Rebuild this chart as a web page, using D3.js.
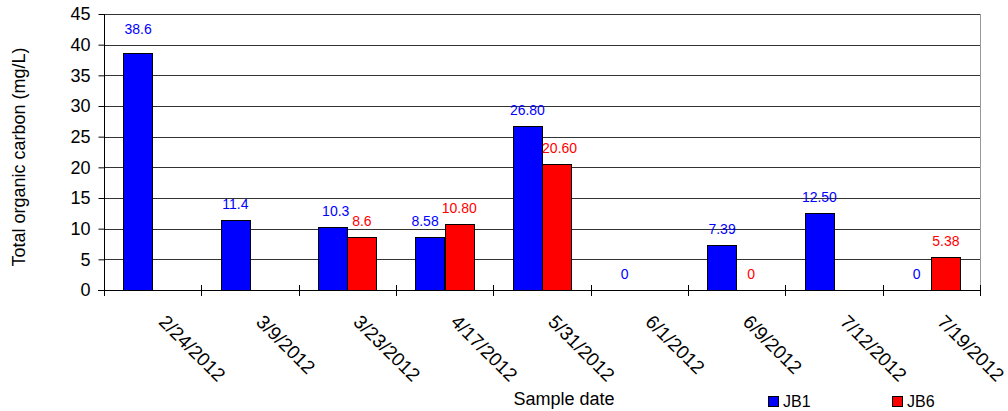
<!DOCTYPE html>
<html>
<head>
<meta charset="utf-8">
<script src="https://cdn.jsdelivr.net/npm/d3@7"></script>
<style>
  html, body { margin: 0; padding: 0; background: #fff; }
  svg { display: block; font-family: "Liberation Sans", Arial, sans-serif; }
</style>
</head>
<body>
<svg id="chart" width="1008" height="411"></svg>
<script>
// Sample dates (category axis)
const dates = ["2/24/2012", "3/9/2012", "3/23/2012", "4/17/2012", "5/31/2012",
               "6/1/2012", "6/9/2012", "7/12/2012", "7/19/2012"];
// Total organic carbon (mg/L); null = not sampled
const jb1Values = [38.6, 11.4, 10.3, 8.58, 26.8, 0, 7.39, 12.5, 0];
const jb6Values = [null, null, 8.6, 10.8, 20.6, null, 0, null, 5.38];
// Data label text as printed above each bar
const jb1Labels = ["38.6", "11.4", "10.3", "8.58", "26.80", "0", "7.39", "12.50", "0"];
const jb6Labels = [null, null, "8.6", "10.80", "20.60", null, "0", null, "5.38"];
const seriesNames = ["JB1", "JB6"];
const seriesColors = ["#0000ff", "#ff0000"];
const yTicks = [0, 5, 10, 15, 20, 25, 30, 35, 40, 45];

// Hand-placed data labels (pixel nudges so neighbouring labels don't collide)
const labelNudge = {
  "JB1-2/24/2012": [0, -8],
  "JB1-3/23/2012": [3, 0],
  "JB1-4/17/2012": [-5, 0],
  "JB6-5/31/2012": [3, 0]
};

const svg = d3.select("#chart");
const plot = { left: 104, right: 980, top: 14, bottom: 290 };

const x = d3.scaleBand().domain(dates).range([plot.left, plot.right]).padding(0);
const xs = d3.scaleBand().domain(seriesNames).range([0, x.bandwidth()])
  .paddingInner(0).paddingOuter(0.667);
const y = d3.scaleLinear().domain([0, 45]).range([plot.bottom, plot.top]);

// Horizontal gridlines
svg.append("g").selectAll("line").data(yTicks.filter(d => d > 0)).join("line")
  .attr("x1", plot.left).attr("x2", plot.right)
  .attr("y1", d => Math.round(y(d)) + 0.5).attr("y2", d => Math.round(y(d)) + 0.5)
  .attr("stroke", "#333").attr("stroke-width", 1);

// Right border of plot area
svg.append("line")
  .attr("x1", plot.right + 0.5).attr("x2", plot.right + 0.5)
  .attr("y1", plot.top).attr("y2", plot.bottom)
  .attr("stroke", "#999");

// Bars and data labels
const series = [
  { name: "JB1", values: jb1Values, labels: jb1Labels, color: seriesColors[0] },
  { name: "JB6", values: jb6Values, labels: jb6Labels, color: seriesColors[1] }
];

series.forEach(s => {
  const rows = dates.map((d, i) => ({ date: d, v: s.values[i], label: s.labels[i] }))
    .filter(r => r.v !== null);
  svg.append("g").selectAll("rect").data(rows.filter(r => r.v > 0)).join("rect")
    .attr("x", r => Math.round(x(r.date) + xs(s.name)) + 0.5)
    .attr("y", r => Math.round(y(r.v)) + 0.5)
    .attr("width", Math.round(xs.bandwidth()))
    .attr("height", r => Math.round(y(0)) - Math.round(y(r.v)))
    .attr("fill", s.color)
    .attr("stroke", "#000").attr("stroke-width", 1);
  const nudge = r => labelNudge[`${s.name}-${r.date}`] || [0, 0];
  svg.append("g").selectAll("text").data(rows).join("text")
    .attr("x", r => x(r.date) + xs(s.name) + xs.bandwidth() / 2 + nudge(r)[0])
    .attr("y", r => y(r.v) - 11 + nudge(r)[1])
    .attr("text-anchor", "middle")
    .attr("font-size", 14)
    .attr("fill", s.color)
    .text(r => r.label);
});

// Y axis
const yAxis = svg.append("g")
  .attr("transform", `translate(${plot.left + 0.5},0)`)
  .call(d3.axisLeft(y).tickValues(yTicks).tickSize(6).tickPadding(8));
yAxis.select(".domain").attr("stroke", "#000").attr("d", `M0,${plot.top}V${plot.bottom}`);
yAxis.selectAll(".tick line").attr("x1", -6).attr("x2", 0).attr("stroke", "#000");
yAxis.selectAll(".tick text")
  .attr("font-size", 18).attr("fill", "#000")
  .attr("font-family", "'Liberation Sans', Arial, sans-serif");

// X axis line and boundary tick marks
const xAxis = svg.append("g");
xAxis.append("line")
  .attr("x1", plot.left - 6).attr("x2", plot.right)
  .attr("y1", plot.bottom + 0.5).attr("y2", plot.bottom + 0.5)
  .attr("stroke", "#000");
const boundaries = dates.map(d => x(d)).concat([plot.right]);
xAxis.selectAll("line.tick").data(boundaries).join("line")
  .attr("class", "tick")
  .attr("x1", d => Math.round(d) + 0.5).attr("x2", d => Math.round(d) + 0.5)
  .attr("y1", plot.bottom - 5).attr("y2", plot.bottom + 6)
  .attr("stroke", "#000");
xAxis.selectAll("text").data(dates).join("text")
  .attr("transform", d => `translate(${x(d) + x.bandwidth() / 2 + 5},${plot.bottom + 33}) rotate(45)`)
  .attr("font-size", 19)
  .attr("fill", "#000")
  .text(d => d);

// Axis titles
svg.append("text")
  .attr("transform", `translate(25,157) rotate(-90)`)
  .attr("text-anchor", "middle")
  .attr("font-size", 18)
  .text("Total organic carbon (mg/L)");
svg.append("text")
  .attr("x", 564).attr("y", 405)
  .attr("text-anchor", "middle")
  .attr("font-size", 18)
  .text("Sample date");

// Legend
const legend = svg.append("g").selectAll("g").data(series).join("g")
  .attr("transform", (d, i) => `translate(${768 + i * 124},396)`);
legend.append("rect")
  .attr("x", 0.5).attr("y", 0.5).attr("width", 10).attr("height", 10)
  .attr("fill", d => d.color).attr("stroke", "#000");
legend.append("text")
  .attr("x", 15).attr("y", 11)
  .attr("font-size", 16)
  .text(d => d.name);
</script>
</body>
</html>
